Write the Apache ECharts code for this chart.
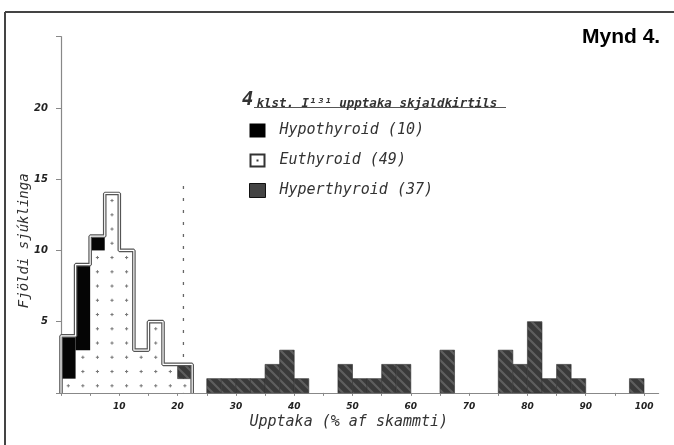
<!DOCTYPE html>
<html><head><meta charset="utf-8">
<script src="https://cdn.jsdelivr.net/npm/echarts@6/dist/echarts.min.js"></script>
<style>html,body{margin:0;padding:0;background:#fff}#c{width:674px;height:445px}</style>
</head><body><div id="c"></div>
<script>
// ---- data (bin start %, patient count); bins are 2.5 % wide ----
const binWidth = 2.5;
const euthyroid = [[0,1],[2.5,3],[5,10],[7.5,14],[10,10],[12.5,3],[15,5],[17.5,2],[20,1]];
const hypothyroid = [[0,3],[2.5,6],[5,1]];
const hyperthyroid = [[20,1],[25,1],[27.5,1],[30,1],[32.5,1],[35,2],[37.5,3],[40,1],
  [47.5,2],[50,1],[52.5,1],[55,2],[57.5,2],[65,3],[75,3],[77.5,2],[80,5],[82.5,1],
  [85,2],[87.5,1],[97.5,1]];
const seriesNames = ['Hypothyroid', 'Euthyroid', 'Hyperthyroid'];
const xTickLabels = ['10','20','30','40','50','60','70','80','90','100'];
const yTickLabels = ['5','10','15','20'];
const normalLimit = [[21,0],[21,15]];
const chartTitle = 'Mynd 4.';
const legendTitleNum = '4';
const legendTitle = 'klst. I¹³¹ upptaka skjaldkirtils';
const xName = 'Upptaka (% af skammti)';
const yName = 'Fjöldi sjúklinga';

const hand = 'DejaVu Sans Mono';
const countAt = (arr, s) => { const f = arr.find(d => d[0] === s); return f ? f[1] : 0; };
const sum = arr => arr.reduce((a, d) => a + d[1], 0);
const totals = {Hypothyroid: sum(hypothyroid), Euthyroid: sum(euthyroid), Hyperthyroid: sum(hyperthyroid)};

const euData = euthyroid.map(d => [d[0], d[0] + binWidth, 0, d[1]]);
const hypoData = hypothyroid.map(d => { const b = countAt(euthyroid, d[0]); return [d[0], d[0] + binWidth, b, b + d[1]]; });
const hyperData = hyperthyroid.map(d => { const b = countAt(euthyroid, d[0]) + countAt(hypothyroid, d[0]); return [d[0], d[0] + binWidth, b, b + d[1]]; });

// silhouette of the left group (double outline)
const outline = [[euthyroid[0][0], 0]];
euthyroid.forEach(d => {
  const t = d[1] + countAt(hypothyroid, d[0]) + countAt(hyperthyroid, d[0]);
  outline.push([d[0], t], [d[0] + binWidth, t]);
});
outline.push([euthyroid[euthyroid.length - 1][0] + binWidth, 0]);

function hatchCanvas() {
  const c = document.createElement('canvas'); c.width = c.height = 10;
  const g = c.getContext('2d');
  g.fillStyle = '#3a3a3a'; g.fillRect(0, 0, 10, 10);
  g.strokeStyle = '#5f5f5f'; g.lineWidth = 2.2;
  g.beginPath(); g.moveTo(-1, -1); g.lineTo(11, 11); g.moveTo(-1, 9); g.lineTo(1, 11); g.moveTo(9, -1); g.lineTo(11, 1); g.stroke();
  return c;
}
const hatch = {image: hatchCanvas(), repeat: 'repeat'};

function rectShape(api) {
  const p0 = api.coord([api.value(0), api.value(3)]);
  const p1 = api.coord([api.value(1), api.value(2)]);
  return {x: p0[0], y: p0[1], width: p1[0] - p0[0], height: p1[1] - p0[1]};
}

const chart = echarts.init(document.getElementById('c'), null, {renderer: 'canvas'});
chart.setOption({
  animation: false,
  backgroundColor: '#fff',
  title: [
    {text: chartTitle, left: 582, top: 27, padding: 0,
     textStyle: {fontFamily: 'Liberation Sans', fontWeight: 'bold', fontSize: 21, color: '#000'}},
    {text: '{a|' + legendTitleNum + '}{b|' + legendTitle + '}', left: 242, top: 91, padding: 0,
     textStyle: {rich: {
       a: {fontFamily: hand, fontStyle: 'italic', fontSize: 19, color: '#333', padding: [0, 3, 0, 0]},
       b: {fontFamily: hand, fontStyle: 'italic', fontSize: 12.5, color: '#333', padding: [6, 0, 0, 0]}
     }}}
  ],
  legend: {
    orient: 'vertical', left: 249, top: 123, itemWidth: 16, itemHeight: 14, itemGap: 15,
    selectedMode: false, padding: 0,
    formatter: n => n + ' (' + totals[n] + ')',
    textStyle: {fontFamily: hand, fontStyle: 'italic', fontSize: 15, color: '#333', padding: [0, 0, 0, 9]},
    data: [
      {name: seriesNames[0], icon: 'rect', itemStyle: {color: '#000', borderWidth: 0}},
      {name: seriesNames[1], icon: 'path://M0,0L16,0L16,14L0,14ZM2,2L2,12L14,12L14,2ZM7,6L9,6L9,8L7,8Z', itemStyle: {color: '#333', borderWidth: 0}},
      {name: seriesNames[2], icon: 'rect', itemStyle: {color: '#444', borderColor: '#111', borderWidth: 1}}
    ]
  },
  grid: {left: 61, right: 15.4, top: 36.7, bottom: 52.1, outerBoundsMode: 'none', containLabel: false},
  xAxis: {
    type: 'value', min: 0, max: 102.5, interval: 5,
    name: xName, nameLocation: 'middle', nameGap: 22, nameMoveOverlap: false,
    nameTextStyle: {fontFamily: hand, fontStyle: 'italic', fontSize: 15, color: '#333', padding: [0, 22, 0, 0]},
    axisLine: {show: true, lineStyle: {color: '#888', width: 1.2}},
    axisTick: {show: true, length: 3, lineStyle: {color: '#888'}},
    splitLine: {show: false},
    axisLabel: {margin: 9, fontFamily: 'DejaVu Sans', fontStyle: 'italic', fontWeight: 'bold', fontSize: 9, color: '#222',
      formatter: v => xTickLabels.includes(String(v)) ? String(v) : '', showMaxLabel: false}
  },
  yAxis: {
    type: 'value', min: 0, max: 25, interval: 5,
    name: yName, nameLocation: 'middle', nameGap: 30, nameRotate: 90, nameMoveOverlap: false,
    nameTextStyle: {fontFamily: hand, fontStyle: 'italic', fontSize: 14, color: '#333', padding: [0, 52, 0, 0]},
    axisLine: {show: true, lineStyle: {color: '#888', width: 1.2}},
    axisTick: {show: true, length: 5, lineStyle: {color: '#888'}},
    splitLine: {show: false},
    axisLabel: {margin: 13, fontFamily: 'DejaVu Sans', fontStyle: 'italic', fontWeight: 'bold', fontSize: 10, color: '#222',
      formatter: v => yTickLabels.includes(String(v)) ? String(v) : ''}
  },
  graphic: [
    {type: 'line', shape: {x1: 5, y1: 12, x2: 674, y2: 12}, style: {stroke: '#444', lineWidth: 2}, silent: true},
    {type: 'line', shape: {x1: 5, y1: 12, x2: 5, y2: 445}, style: {stroke: '#444', lineWidth: 2}, silent: true},
    {type: 'line', shape: {x1: 254, y1: 107.5, x2: 506, y2: 107.5}, style: {stroke: '#555', lineWidth: 1.2}, silent: true}
  ],
  series: [
    {type: 'line', data: normalLimit, symbol: 'none', z: 1, silent: true,
     lineStyle: {color: '#666', width: 1.3, type: [3, 9]}},
    {name: seriesNames[1], type: 'custom', z: 2, data: euData, encode: {x: [0, 1], y: [2, 3]},
     itemStyle: {color: '#fff'},
     renderItem: (params, api) => {
       const children = [{type: 'rect', shape: rectShape(api), style: {fill: '#fff'}}];
       const xm = (api.value(0) + api.value(1)) / 2;
       for (let k = api.value(2); k < api.value(3); k++) {
         const c = api.coord([xm, k + 0.5]);
         children.push({type: 'line', shape: {x1: c[0] - 1.6, y1: c[1], x2: c[0] + 1.6, y2: c[1]}, style: {stroke: '#777', lineWidth: 1}});
         children.push({type: 'line', shape: {x1: c[0], y1: c[1] - 1.6, x2: c[0], y2: c[1] + 1.6}, style: {stroke: '#777', lineWidth: 1}});
       }
       return {type: 'group', children};
     }},
    {name: seriesNames[0], type: 'custom', z: 3, data: hypoData, encode: {x: [0, 1], y: [2, 3]},
     itemStyle: {color: '#000'},
     renderItem: (params, api) => ({type: 'rect', shape: rectShape(api), style: {fill: '#050505'}})},
    {name: seriesNames[2], type: 'custom', z: 3, data: hyperData, encode: {x: [0, 1], y: [2, 3]},
     itemStyle: {color: '#444'},
     renderItem: (params, api) => ({type: 'rect', shape: rectShape(api), style: {fill: hatch, stroke: '#333', lineWidth: 0.6}})},
    {type: 'line', data: outline, symbol: 'none', z: 5, silent: true, lineStyle: {color: '#555', width: 3.6}},
    {type: 'line', data: outline, symbol: 'none', z: 6, silent: true, lineStyle: {color: '#fff', width: 1.2}}
  ]
});
</script></body></html>
